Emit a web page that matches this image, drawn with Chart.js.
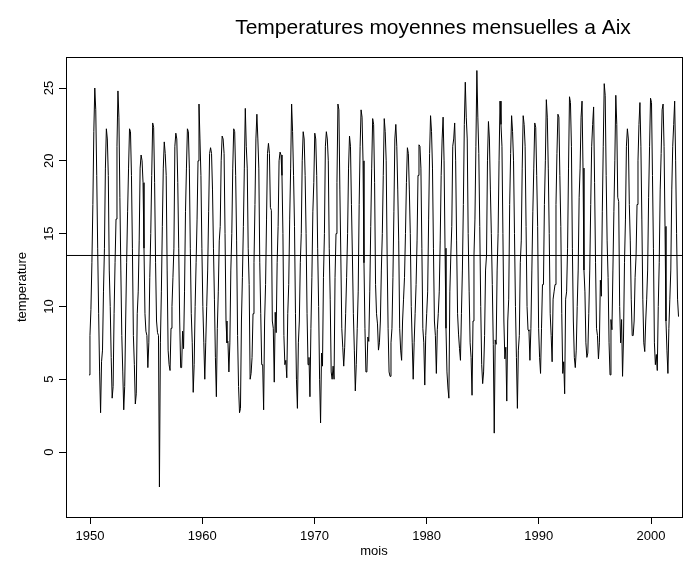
<!DOCTYPE html>
<html>
<head>
<meta charset="utf-8">
<script src="https://cdn.jsdelivr.net/npm/chart.js@4/dist/chart.umd.min.js"></script>
<style>
  html, body { margin: 0; padding: 0; background: #ffffff; }
  #wrap { width: 696px; height: 561px; }
</style>
</head>
<body>
<div id="wrap"><canvas id="c" width="696" height="561"></canvas></div>
<script>
// ---- Data (monthly mean temperatures, Jan..Dec) ----
const temps1950s = [
  5.3, 8.0, 9.8, 13, 17, 22, 25.0, 23.5, 19, 14, 9.5, 5.5,
  2.7, 6.2, 7.0, 11, 14, 19.5, 22.2, 21.5, 19, 12.5, 10, 6.5,
  3.7, 4.5, 9.5, 13, 16, 21, 24.8, 23, 17.5, 12.5, 8, 5.5,
  2.9, 4.5, 9, 13, 16.5, 19.5, 22.2, 22.0, 19, 14, 8, 6.0,
  3.3, 4.0, 9.5, 11, 14.5, 19.5, 20.4, 20.0, 18.5, 14, 9.5, 8.3,
  8.0, 5.8, 7.5, 12, 15, 19, 22.6, 22.3, 18.5, 13, 9, 8.2,
  8.0, -2.4, 7.5, 11, 15.5, 19.5, 21.3, 20.5, 19, 12.5, 7, 6.0,
  5.6, 8.5, 10, 12, 14, 21, 21.9, 21.5, 18.5, 14, 9, 5.8,
  5.8, 8.3, 7.1, 11, 16.5, 19.5, 22.2, 22.0, 19.5, 14, 9.5, 7.5,
  4.1, 6, 10, 13, 16, 20, 23.9, 21.5, 19, 14, 10, 7.5
];
const temps1960s = [
  5.0, 7.5, 10, 12.5, 16.5, 20.5, 20.9, 20.5, 18, 14, 10.5, 6.5,
  3.8, 8.5, 11, 14.5, 15.5, 20, 21.7, 21.5, 20.5, 15, 9, 7.5,
  7.6, 5.5, 7.5, 12.5, 15, 19.5, 22.2, 22.0, 19, 14.5, 8, 4.5,
  2.7, 3.0, 9, 12, 15.5, 19.5, 23.6, 21, 19.5, 14, 11.5, 5.0,
  5.4, 6.5, 9.5, 13, 17, 21.5, 23.2, 21.5, 19.5, 13, 9.5, 6.0,
  6.0, 2.9, 9, 11.5, 16, 20.5, 21.2, 20.5, 16.8, 16.6, 9, 8.5,
  4.8, 9.6, 8.2, 13, 15.5, 20, 20.6, 20.4, 19, 15, 8, 6.0,
  6.3, 5.1, 9.5, 11.5, 16, 19.5, 23.9, 22, 19, 15.5, 9.5, 5,
  3.0, 7.5, 9, 13, 15, 20, 22.0, 21.5, 19, 15, 9.5, 6,
  6.5, 3.8, 8.5, 12, 16.5, 18.5, 21.9, 21.5, 19, 14, 10, 5.0
];
const temps1970s = [
  2.0, 6.8, 5.9, 12, 15, 21, 22.0, 21.5, 20, 14, 10.5, 5.5,
  5.0, 5.9, 5.0, 12, 15, 18.5, 23.9, 23.5, 18, 13.5, 8.5, 7.2,
  5.9, 7.2, 9.5, 12, 15, 19.5, 21.7, 21, 17, 13.5, 9.5, 7.0,
  4.2, 6, 8.5, 11, 17, 21, 23.5, 23, 20, 13, 8.5, 5.5,
  5.5, 7.9, 7.6, 11, 15.5, 19.5, 22.9, 22.5, 18.5, 11.5, 9.5, 8.8,
  7.0, 7.5, 9, 12.5, 15, 19, 22.9, 22, 20, 13.5, 8.5, 5.5,
  5.2, 7.5, 8.5, 12, 16.5, 21.5, 22.5, 21, 18, 14.5, 8.5, 7.0,
  6.3, 9, 10.5, 12, 15, 18.5, 20.9, 20.5, 18, 15, 10, 7.5,
  5.0, 7.5, 9.5, 11.5, 14.5, 19, 21.1, 21, 19.5, 14, 8.5, 7.5,
  4.6, 8, 9.5, 11, 16, 20.5, 23.1, 22, 19.5, 14, 9, 8.0
];
const temps1980s = [
  5.4, 8.4, 9.5, 11, 14.5, 19, 21.5, 23.0, 20, 14, 8.5, 5.5,
  4.4, 3.7, 11, 13.5, 15.5, 21, 21.5, 22.6, 20, 14.5, 9.5, 8.1,
  7.1, 6.3, 9.5, 12.5, 17, 22.5, 25.4, 23, 21.5, 15, 11, 7.5,
  6.5, 3.9, 9, 13.5, 16, 21, 26.2, 23, 20.5, 15.5, 10, 6.0,
  4.7, 5.5, 8, 12.5, 13.5, 20, 22.7, 21.5, 18, 15, 11.5, 7.4,
  1.3, 7.7, 7.4, 12.5, 15, 20, 24.1, 22.5, 21, 15, 9, 6.4,
  7.2, 3.5, 9, 10.5, 17, 20.5, 23.1, 22, 20, 15, 10, 6.5,
  3.0, 7, 8, 13, 14.5, 19.5, 23.1, 22.5, 21, 15.5, 10, 8.4,
  8.3, 6.3, 8.5, 12.5, 16.5, 19.5, 22.6, 22.3, 19, 15.5, 8.5, 6.5,
  5.4, 8.5, 11.5, 11.5, 17, 20, 24.2, 23, 19.5, 15, 9.5, 8.0
];
const temps1990s = [
  6.2, 10.5, 11, 11.5, 17, 20.5, 23.2, 23, 19, 15.5, 9.5, 5.4,
  6.2, 4.0, 10.5, 11, 14, 19.5, 24.4, 24, 21, 14, 9, 6.5,
  5.8, 7, 10, 12.5, 17.5, 19.5, 23, 24.1, 19.5, 12.5, 11, 7.5,
  6.5, 6.8, 9.5, 12.5, 17, 21, 22.5, 23.7, 18.5, 13, 8.5, 8.0,
  6.4, 7.5, 11.8, 10.7, 16.5, 21, 25.3, 24.5, 19, 14.5, 12, 7.5,
  5.3, 9.1, 8.4, 12.5, 16.5, 20, 24.5, 22.5, 17.5, 17.2, 10, 7.5,
  9.1, 5.2, 7.9, 13, 16, 21, 22.2, 21.5, 17, 14.5, 10.5, 8.0,
  8.0, 9, 12, 13.5, 17, 20, 22.5, 24.0, 21, 16, 10.5, 7.5,
  6.9, 9, 10.5, 12.5, 17.5, 21, 24.3, 24, 19, 14, 7.5, 6.0,
  6.7, 5.6, 10, 13, 18, 20.5, 23.5, 23.9, 21, 15.5, 9, 7
];
const temps2000 = [5.4, 8.5, 10.5, 12.5, 18, 21, 22.5, 24.1, 20, 15, 10.5, 9.3];

const meanTemperature = 13.5;          // horizontal reference line
const xTickLabels = [1950, 1960, 1970, 1980, 1990, 2000];
const yTickLabels = [0, 5, 10, 15, 20, 25];
const firstTime = 1949.91;             // time of first observation on the axis
const lastTime = 2002.45;              // time of last observation on the axis

// ---- Build series ----
const allTemps = [].concat(temps1950s, temps1960s, temps1970s, temps1980s, temps1990s, temps2000);
const n = allTemps.length;
const series = allTemps.map((v, i) => ({ x: firstTime + i * (lastTime - firstTime) / (n - 1), y: v }));

const X_MIN = 1947.86, X_MAX = 2002.76, Y_MIN = -4.46, Y_MAX = 27.13;
const FONT = '"Liberation Sans", Arial, Helvetica, sans-serif';

const rStyle = {
  id: 'rStyle',
  afterDraw(chart) {
    const ctx = chart.ctx;
    const a = chart.chartArea;
    ctx.save();
    ctx.strokeStyle = '#000';
    ctx.lineWidth = 1;
    ctx.strokeRect(Math.round(a.left) + 0.5, Math.round(a.top) + 0.5,
                   Math.round(a.right - a.left), Math.round(a.bottom - a.top));
    ctx.fillStyle = '#000';
    // Title
    ctx.font = '21px ' + FONT;
    ctx.textAlign = 'center';
    ctx.textBaseline = 'middle';
    ctx.fillText('Temperatures moyennes mensuelles a Aix', 433, 28);
    // x axis title
    ctx.font = '13px ' + FONT;
    ctx.fillText('mois', (a.left + a.right) / 2, 551);
    // y tick labels (rotated, R style)
    const ys = chart.scales.y;
    yTickLabels.forEach(v => {
      const py = ys.getPixelForValue(v);
      ctx.save();
      ctx.translate(49, py);
      ctx.rotate(-Math.PI / 2);
      ctx.textAlign = 'center';
      ctx.textBaseline = 'middle';
      ctx.fillText(String(v), 0, 0);
      ctx.restore();
    });
    // y axis title
    ctx.save();
    ctx.translate(22, (a.top + a.bottom) / 2);
    ctx.rotate(-Math.PI / 2);
    ctx.textAlign = 'center';
    ctx.textBaseline = 'middle';
    ctx.fillText('temperature', 0, 0);
    ctx.restore();
    ctx.restore();
  }
};

new Chart(document.getElementById('c'), {
  type: 'line',
  data: {
    datasets: [
      {
        data: series,
        borderColor: '#000',
        borderWidth: 1,
        pointRadius: 0,
        tension: 0,
        fill: false
      },
      {
        data: [{ x: X_MIN, y: meanTemperature }, { x: X_MAX, y: meanTemperature }],
        borderColor: '#000',
        borderWidth: 1,
        pointRadius: 0,
        fill: false
      }
    ]
  },
  options: {
    responsive: false,
    devicePixelRatio: 1,
    animation: false,
    events: [],
    layout: { padding: { top: 57, right: 14, left: 0, bottom: 0 } },
    plugins: { legend: { display: false }, title: { display: false }, tooltip: { enabled: false } },
    scales: {
      x: {
        type: 'linear',
        min: X_MIN,
        max: X_MAX,
        afterBuildTicks: s => { s.ticks = xTickLabels.map(v => ({ value: v })); },
        afterFit: s => { s.height = 44; },
        grid: { drawOnChartArea: false, drawTicks: true, tickLength: 7, color: '#000', lineWidth: 1 },
        border: { display: true, color: '#000', width: 1 },
        ticks: {
          color: '#000',
          font: { size: 13, family: FONT },
          padding: 5,
          maxRotation: 0,
          minRotation: 0,
          callback: v => String(v)
        }
      },
      y: {
        type: 'linear',
        min: Y_MIN,
        max: Y_MAX,
        afterBuildTicks: s => { s.ticks = yTickLabels.map(v => ({ value: v })); },
        afterFit: s => { s.width = 66; },
        grid: { drawOnChartArea: false, drawTicks: true, tickLength: 7, color: '#000', lineWidth: 1 },
        border: { display: true, color: '#000', width: 1 },
        ticks: { display: false }
      }
    }
  },
  plugins: [rStyle]
});
</script>
</body>
</html>
